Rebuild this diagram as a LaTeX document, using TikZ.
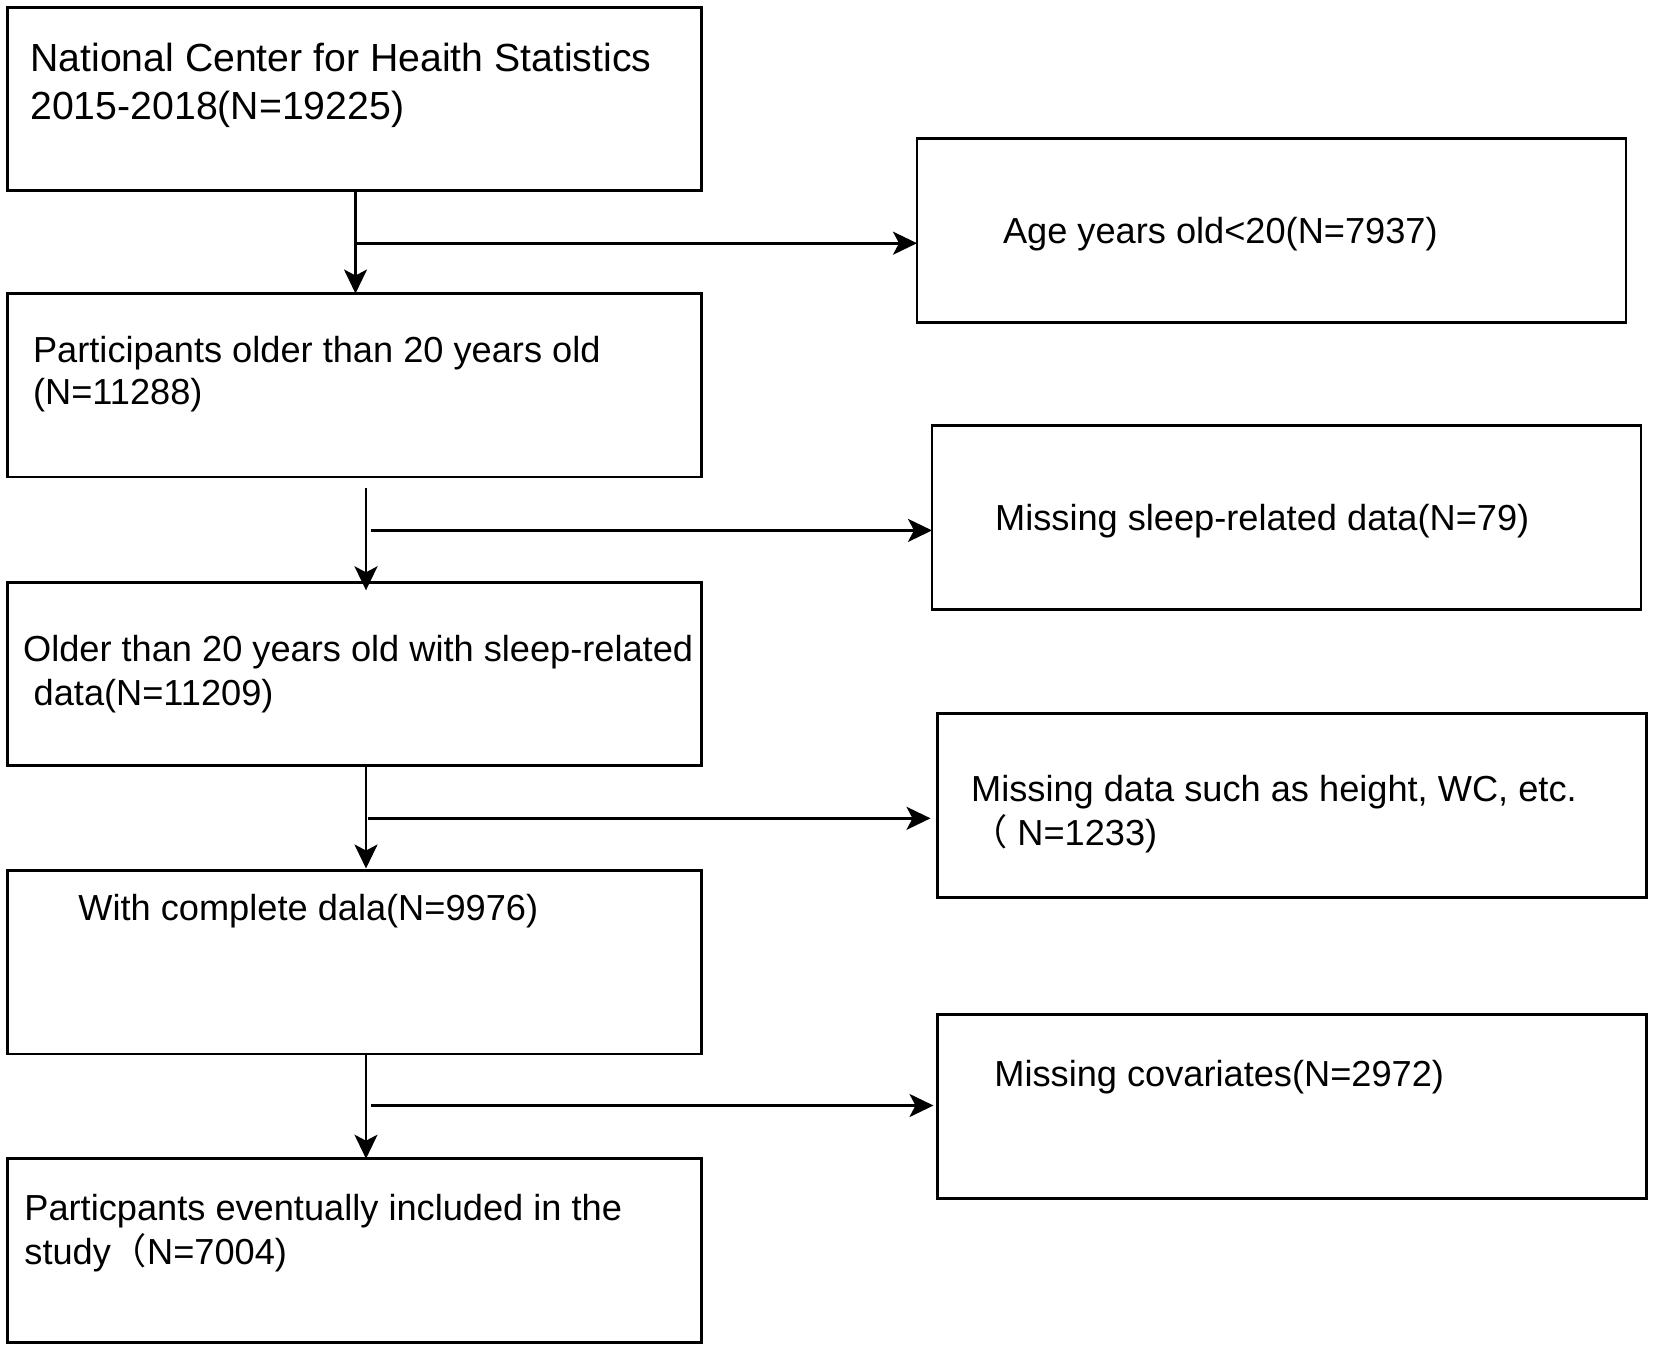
\documentclass[tikz,border=0pt]{standalone}
\usepackage{fontspec}
\setmainfont{Liberation Sans}
\newfontfamily\cjk{Noto Sans CJK SC}
\usetikzlibrary{arrows.meta}
\tikzset{
  box/.style={draw, line width=1.4pt, inner sep=0pt, outer sep=0pt, anchor=north west,
    minimum width=347.2pt, minimum height=91.7pt},
  sidebox/.style={box, minimum width=354.5pt, minimum height=91.8pt},
  txt/.style={inner sep=0pt, anchor=base west, font=\fontsize{18.1}{21.7}\selectfont},
  flow/.style={line width=1.3pt, -{Stealth[length=12pt,width=11.5pt,inset=3pt]}}
}
\begin{document}
\begin{tikzpicture}[x=0.5pt,y=-0.5pt]
        \fill[white] (0,0) rectangle (1654,1350);
        \useasboundingbox (0,0) rectangle (1654,1350);
        \node[box] (nchs) at (7.2,7.2) {};
        \node[box] (adults) at (7.2,293.5) {};
        \node[box] (sleep) at (7.2,582.3) {};
        \node[box] (complete) at (7.2,870.5) {};
        \node[box] (final) at (7.2,1158.7) {};
        \node[sidebox] (exage) at (917,138.5) {};
        \node[sidebox] (exsleep) at (932,425.8) {};
        \node[sidebox] (exheight) at (937.5,713.5) {};
        \node[sidebox] (excov) at (937.5,1014.5) {};
        \node[txt, font=\fontsize{19.6}{23.5}\selectfont] (nchsa) at (30,71.7) {National Center for Heaith Statistics};
        \node[txt, font=\fontsize{19.6}{23.5}\selectfont] (nchsb) at (30,119.7) {2015-2018(N=19225)};
        \node[txt] (adultsa) at (32.7,362) {Participants older than 20 years old};
        \node[txt] (adultsb) at (32.7,404.6) {(N=11288)};
        \node[txt] (sleepa) at (22.7,661.7) {Older than 20 years old with sleep-related};
        \node[txt] (sleepb) at (33.3,705) {data(N=11209)};
        \node[txt] (completea) at (78,920.4) {With complete dala(N=9976)};
        \node[txt] (finala) at (24,1220) {Particpants eventually included in the};
        \node[txt] (finalb) at (24,1264) {study{\cjk （}N=7004)};
        \node[txt] (exagea) at (1002.6,243.2) {Age years old<20(N=7937)};
        \node[txt] (exsleepa) at (994.7,530.8) {Missing sleep-related data(N=79)};
        \node[txt] (exheighta) at (970.7,801) {Missing data such as height, WC, etc.};
        \node[txt] (exheightb) at (970.7,845) {{\cjk （} N=1233)};
        \node[txt] (excova) at (994,1086) {Missing covariates(N=2972)};
        \coordinate (b1) at (355.5,243.2);
        \coordinate (s2) at (366,487.7);
        \coordinate (b2) at (371,530.4);
        \coordinate (b3) at (368.3,818.3);
        \coordinate (b4) at (371,1105.5);
        \draw[flow] (b1 |- nchs.south) -- (b1 |- adults.north);
        \draw[flow] (b1) -- (b1 -| exage.west);
        \draw[flow, shorten >=-4pt] (s2) -- (s2 |- sleep.north);
        \draw[flow] (b2) -- (b2 -| exsleep.west);
        \draw[flow, shorten >=1pt] (s2 |- sleep.south) -- (s2 |- complete.north);
        \draw[flow, shorten >=3.5pt] (b3) -- (b3 -| exheight.west);
        \draw[flow] (s2 |- complete.south) -- (s2 |- final.north);
        \draw[flow, shorten >=2pt] (b4) -- (b4 -| excov.west);
\end{tikzpicture}
\end{document}
